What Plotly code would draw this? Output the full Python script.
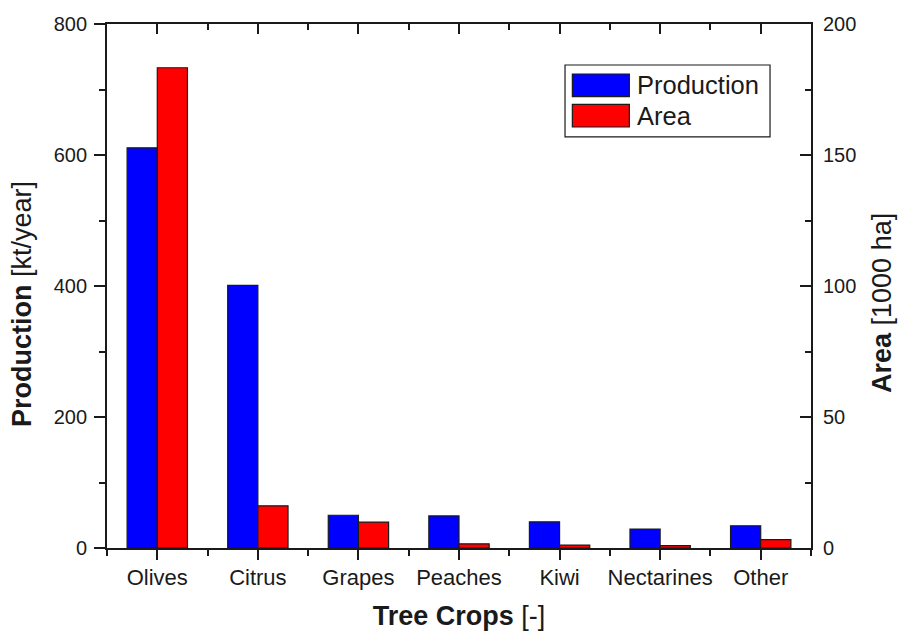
import plotly.graph_objects as go

# Tree crop production and cultivated area
crops = ["Olives", "Citrus", "Grapes", "Peaches", "Kiwi", "Nectarines", "Other"]
production = [611, 401, 50, 49, 40, 29, 34]        # kt/year
area = [183.3, 16.1, 9.9, 1.6, 1.1, 0.9, 3.2]      # 1000 ha
prod_ticks = [0, 200, 400, 600, 800]
area_ticks = [0, 50, 100, 150, 200]

pos = list(range(len(crops)))
FONT = "Liberation Sans, Arial, Helvetica, sans-serif"
INK = "#1a1a1a"
LW = 1.8
BLUE = "#0000FF"
RED = "#FF0000"

fig = go.Figure()
fig.add_trace(go.Bar(
    x=pos, y=production, name="Production", width=0.3, offset=-0.3,
    marker=dict(color=BLUE, line=dict(color=INK, width=1.2)), yaxis="y",
))
fig.add_trace(go.Bar(
    x=pos, y=area, name="Area", width=0.3, offset=0.0,
    marker=dict(color=RED, line=dict(color=INK, width=1.2)), yaxis="y2",
))
# carrier for the top frame axis
fig.add_trace(go.Scatter(x=[], y=[], xaxis="x2", yaxis="y", showlegend=False,
                         hoverinfo="skip"))

xr = [-0.5, len(crops) - 0.5]
common = dict(showline=True, linecolor=INK, linewidth=LW, showgrid=False,
              zeroline=False, tickcolor=INK, tickwidth=LW, automargin=False)

fig.update_layout(
    width=899, height=637, autosize=False,
    margin=dict(l=107, r=88, t=24, b=89),
    paper_bgcolor="white", plot_bgcolor="white",
    barmode="overlay", showlegend=False,
    font=dict(family=FONT, color=INK),
    xaxis=dict(
        range=xr, tickmode="array", tickvals=pos, ticktext=crops,
        ticks="outside", ticklen=10, ticklabelstandoff=-1,
        minor=dict(tick0=0.5, dtick=1, ticks="outside", ticklen=6,
                   tickcolor=INK, tickwidth=LW),
        tickfont=dict(size=22, color=INK),
        title=dict(text="<b>Tree Crops</b> [-]", font=dict(size=27, color=INK),
                   standoff=17),
        **common,
    ),
    xaxis2=dict(
        range=xr, overlaying="x", side="top", tickmode="array", tickvals=pos,
        ticks="inside", ticklen=10, showticklabels=False,
        minor=dict(tick0=0.5, dtick=1, ticks="inside", ticklen=6,
                   tickcolor=INK, tickwidth=LW),
        **common,
    ),
    yaxis=dict(
        range=[0, 800], tickmode="array", tickvals=prod_ticks,
        ticks="outside", ticklen=11, ticklabelstandoff=3,
        minor=dict(tick0=0, dtick=100, ticks="outside", ticklen=6,
                   tickcolor=INK, tickwidth=LW),
        tickfont=dict(size=20, color=INK),
        **common,
    ),
    yaxis2=dict(
        range=[0, 200], overlaying="y", side="right", tickmode="array",
        tickvals=area_ticks, ticks="inside", ticklen=11,
        minor=dict(tick0=0, dtick=25, ticks="inside", ticklen=6,
                   tickcolor=INK, tickwidth=LW),
        tickfont=dict(size=20, color=INK), ticklabelstandoff=6,
        **common,
    ),
)

# Vertical axis titles
fig.add_annotation(xref="paper", yref="paper", x=-0.1207, y=0.4656,
                   text="<b>Production</b> [kt/year]", textangle=-90,
                   showarrow=False, xanchor="center", yanchor="middle",
                   font=dict(size=27, color=INK))
fig.add_annotation(xref="paper", yref="paper", x=1.1001, y=0.4685,
                   text="<b>Area</b> [1000 ha]", textangle=-90,
                   showarrow=False, xanchor="center", yanchor="middle",
                   font=dict(size=27, color=INK))

# Legend box with wide swatches
fig.add_shape(type="rect", xref="paper", yref="paper",
              x0=0.6506, x1=0.9418, y0=0.7844, y1=0.9218,
              line=dict(color=INK, width=1.2), fillcolor="white", layer="above")
for (label, color, y0, y1) in [("Production", BLUE, 0.8613, 0.9046),
                               ("Area", RED, 0.8034, 0.8468)]:
    fig.add_shape(type="rect", xref="paper", yref="paper",
                  x0=0.661, x1=0.742, y0=y0, y1=y1,
                  line=dict(color=INK, width=1.2), fillcolor=color, layer="above")
    fig.add_annotation(xref="paper", yref="paper", x=0.7505, y=(y0 + y1) / 2,
                       text=label, showarrow=False, xanchor="left",
                       yanchor="middle", font=dict(size=25.5, color=INK))

fig.write_html("out.html")
